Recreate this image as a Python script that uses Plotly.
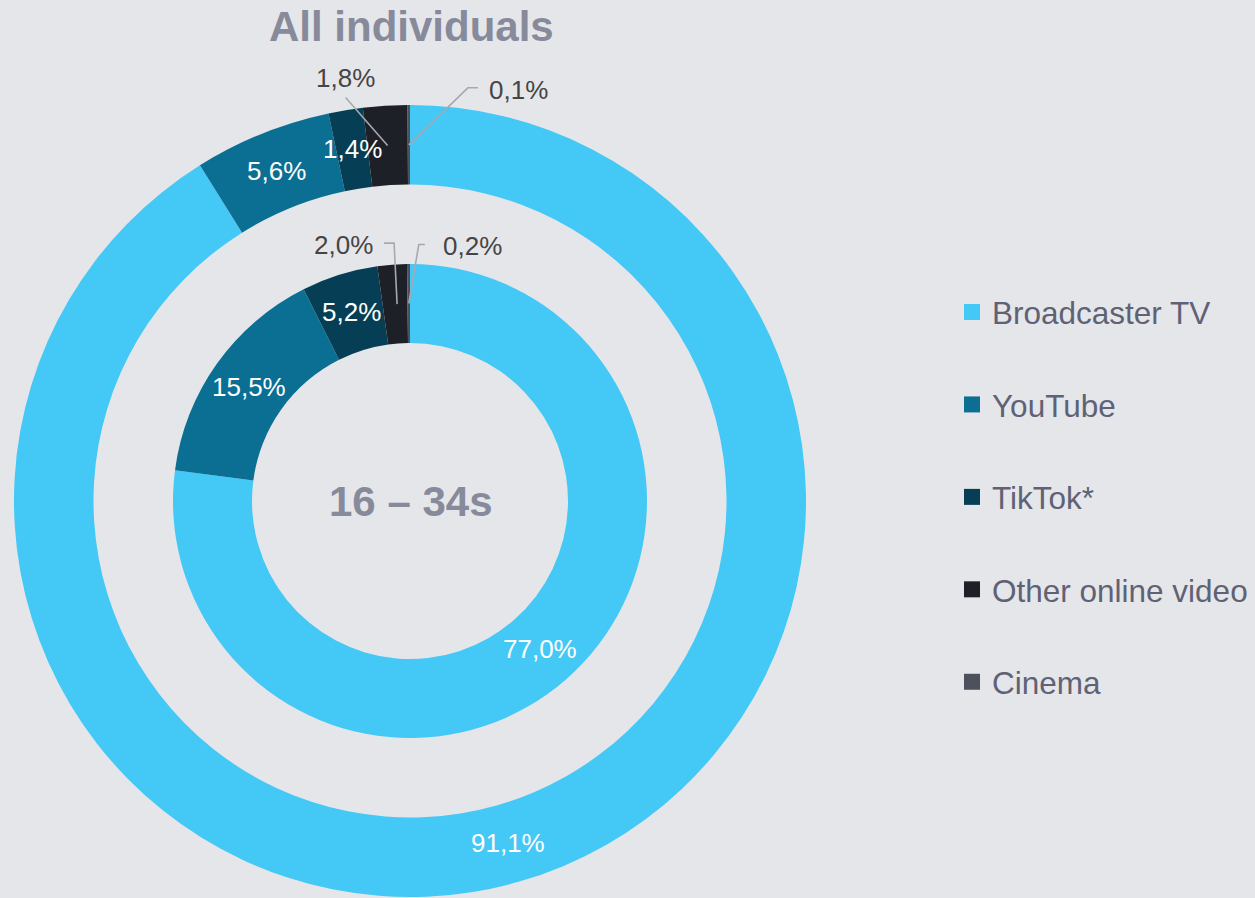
import math
import plotly.graph_objects as go

# ---------------- data ----------------
categories = ["Broadcaster TV", "YouTube", "TikTok*", "Other online video", "Cinema"]
all_individuals = [91.1, 5.6, 1.4, 1.8, 0.1]
age_16_34 = [77.0, 15.5, 5.2, 2.0, 0.2]
outer_title = "All individuals"
inner_title = "16 – 34s"

# ---------------- style ----------------
colors = ["#44C8F5", "#0B6F94", "#063F55", "#1E2027", "#4D515D"]
BG = "#E5E6EA"
FONT = "Liberation Sans, Arial, sans-serif"
TITLE_COLOR = "#878A9A"
LEGEND_COLOR = "#5F6275"
OUT_LABEL_COLOR = "#454545"
LEADER_COLOR = "#A7A9B0"
LABEL_SIZE = 26

W, H = 1255, 898
CX, CY = 410, 501
R_OUT, R_OUT_HOLE = 396, 316.5
R_IN, R_IN_HOLE = 237, 158

# outside label placements (offsets relative to the slice anchor)
outer_outside = {
    "Other online video": dict(path=[(0, 0), (-42, -48)], label=(-42, -67)),
    "Cinema": dict(path=[(0, 0), (59, -57), (69, -57)], label=(110, -55)),
}
inner_outside = {
    "Other online video": dict(path=[(2, 0), (-1, -61), (-11, -61)], label=(-52, -59)),
    "Cinema": dict(path=[(0, 0), (10, -59), (16, -59)], label=(64, -58)),
}


def fmt(v):
    return f"{v:.1f}".replace(".", ",") + "%"


def domain(r):
    return dict(x=[(CX - r) / W, (CX + r) / W],
                y=[(H - CY - r) / H, (H - CY + r) / H])


fig = go.Figure()

for values, r, rh in [(all_individuals, R_OUT, R_OUT_HOLE), (age_16_34, R_IN, R_IN_HOLE)]:
    fig.add_trace(go.Pie(
        labels=categories, values=values, sort=False, direction="clockwise",
        rotation=0, hole=rh / r, domain=domain(r),
        marker=dict(colors=colors, line=dict(width=0)),
        textinfo="none", hoverinfo="label+value", showlegend=False,
    ))

# legend entries
for i, (c, col) in enumerate(zip(categories, colors)):
    fig.add_trace(go.Scatter(
        x=[None], y=[None], mode="markers", name=c, legendgroup=str(i),
        marker=dict(symbol="square", size=16, color=col), showlegend=True,
        xaxis="x", yaxis="y",
    ))

annotations = []
shapes = []


def add_ring_labels(values, r_outer, r_hole, outside):
    total = sum(values)
    rm = (r_outer + r_hole) / 2
    cum = 0.0
    for cat, v in zip(categories, values):
        frac = (cum + v / 2) / total
        cum += v
        th = 2 * math.pi * frac
        ax = CX + rm * math.sin(th)
        ay = CY - rm * math.cos(th)
        if cat in outside:
            spec = outside[cat]
            pts = [(ax + dx, ay + dy) for dx, dy in spec["path"]]
            d = "M " + " L ".join(f"{x:.1f},{y:.1f}" for x, y in pts)
            shapes.append(dict(type="path", path=d, xref="x", yref="y",
                               line=dict(color=LEADER_COLOR, width=1.6), layer="above"))
            lx, ly = spec["label"]
            annotations.append(dict(x=ax + lx, y=ay + ly, xref="x", yref="y",
                                    text=fmt(v), showarrow=False,
                                    font=dict(family=FONT, size=LABEL_SIZE, color=OUT_LABEL_COLOR),
                                    xanchor="center", yanchor="middle"))
        else:
            annotations.append(dict(x=ax, y=ay, xref="x", yref="y", text=fmt(v),
                                    showarrow=False,
                                    font=dict(family=FONT, size=LABEL_SIZE, color="white"),
                                    xanchor="center", yanchor="middle"))


add_ring_labels(all_individuals, R_OUT, R_OUT_HOLE, outer_outside)
add_ring_labels(age_16_34, R_IN, R_IN_HOLE, inner_outside)

annotations.append(dict(x=CX + 1, y=26, xref="x", yref="y", text=f"<b>{outer_title}</b>",
                        showarrow=False, font=dict(family=FONT, size=42, color=TITLE_COLOR),
                        xanchor="center", yanchor="middle"))
annotations.append(dict(x=CX + 1, y=CY, xref="x", yref="y", text=f"<b>{inner_title}</b>",
                        showarrow=False, font=dict(family=FONT, size=42, color=TITLE_COLOR),
                        xanchor="center", yanchor="middle"))

fig.update_layout(
    width=W, height=H,
    margin=dict(l=0, r=0, t=0, b=0, autoexpand=False),
    paper_bgcolor=BG, plot_bgcolor=BG,
    xaxis=dict(range=[0, W], visible=False, domain=[0, 1], fixedrange=True),
    yaxis=dict(range=[H, 0], visible=False, domain=[0, 1], fixedrange=True),
    showlegend=True,
    legend=dict(x=952 / W, y=1 - 497 / H, xanchor="left", yanchor="middle",
                font=dict(family=FONT, size=31.5, color=LEGEND_COLOR),
                bgcolor="rgba(0,0,0,0)", tracegroupgap=48.5, itemsizing="trace",
                traceorder="grouped"),
    annotations=annotations,
    shapes=shapes,
)

fig.write_html(
    "out.html",
    config={"displayModeBar": False},
    post_script="document.body.style.margin='0';document.body.style.background='" + BG + "';",
)
